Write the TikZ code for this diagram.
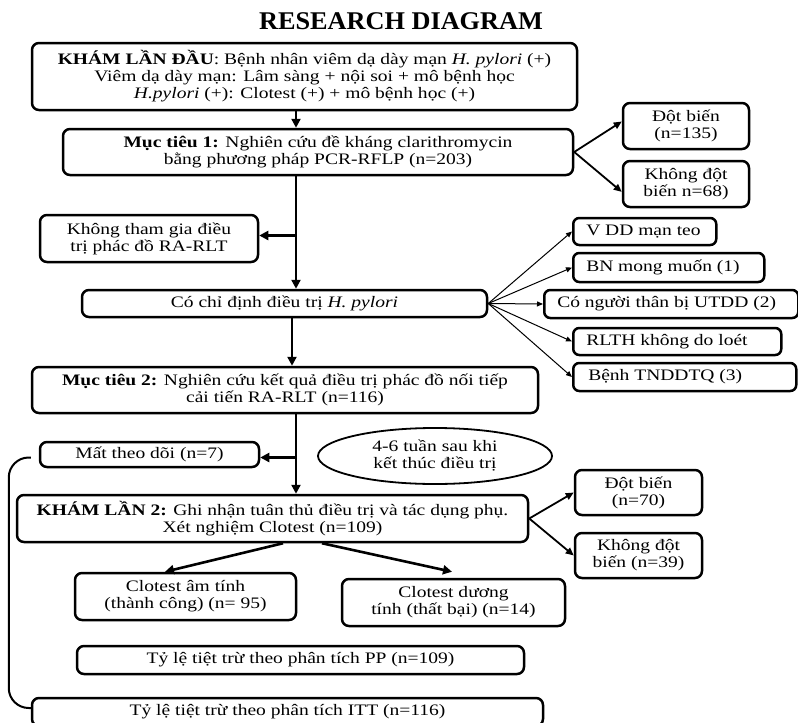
\documentclass[tikz,border=0pt]{standalone}
\usepackage{fontspec}
\setmainfont{Liberation Serif}[FakeStretch=1.22]
\newfontfamily\titlefont{Liberation Serif}[FakeStretch=1.03]
\usetikzlibrary{arrows.meta,shapes.geometric,calc}
\newcommand\leftin[2]{\makebox[#1][l]{#2}}
\begin{document}
\begin{tikzpicture}[x=1pt,y=-1pt,
  every node/.style={font=\fontsize{16pt}{17pt}\selectfont},
  box/.style={draw, line width=2.5pt, rounded corners=7pt, align=center, inner sep=0pt},
  fanbox/.style={draw, line width=2.5pt, rounded corners=6pt, inner ysep=0pt, inner xsep=13pt, anchor=west},
  thickarr/.style={line width=2.6pt, -{Triangle[length=9pt,width=9pt]}},
  medarr/.style={line width=1.8pt, -{Triangle[length=8pt,width=7pt]}},
  thinarr/.style={line width=1pt, -{Triangle[length=6pt,width=5pt]}},
  bracket/.style={line width=2pt, rounded corners=20pt},
  ]
\useasboundingbox (0,0) rectangle (798,723);

% title
\node[font={\titlefont\fontsize{25.5pt}{28pt}\selectfont\bfseries}] (title) at (401,21) {RESEARCH DIAGRAM};

% main column
\node[box, minimum width=545pt, minimum height=67pt] (top) at (304.5,76.5)
  {\textbf{KHÁM LẦN ĐẦU}: Bệnh nhân viêm dạ dày mạn \textit{H. pylori} (+)\\
   Viêm dạ dày mạn: Lâm sàng + nội soi + mô bệnh học\\
   \textit{H.pylori} (+): Clotest (+) + mô bệnh học (+)};
\node[box, minimum width=510pt, minimum height=46pt] (m1) at (318,152)
  {\textbf{Mục tiêu 1:} Nghiên cứu đề kháng clarithromycin\\
   bằng phương pháp PCR-RFLP (n=203)};
\node[box, minimum width=126pt, minimum height=46pt] (db1) at (686,126) {Đột biến\\(n=135)};
\node[box, minimum width=126pt, minimum height=46pt] (kdb1) at (686,184) {Không đột\\biến n=68)};
\node[box, minimum width=218pt, minimum height=47pt] (ktg) at (149,238.5)
  {Không tham gia điều\\trị phác đồ RA-RLT};
\node[box, minimum width=405pt, minimum height=27pt] (ccd) at (284.5,303.5)
  {Có chỉ định điều trị \textit{H. pylori}};

% fan boxes
\node[fanbox, minimum height=27pt] (vdd) at (572,231.5) {\leftin{117pt}{V DD mạn teo}};
\node[fanbox, minimum height=29pt] (bn) at (572,267.5) {\leftin{165pt}{BN mong muốn (1)}};
\node[fanbox, minimum height=28pt] (cnt) at (543,304) {\leftin{228pt}{Có người thân bị UTDD (2)}};
\node[fanbox, minimum height=27pt] (rlth) at (572,341.5) {\leftin{182pt}{RLTH không do loét}};
\node[fanbox, minimum height=28pt] (benh) at (572,377) {\leftin{197pt}{\hspace{2pt}Bệnh TNDDTQ (3)}};

\node[box, minimum width=506pt, minimum height=46pt] (m2) at (285,390)
  {\textbf{Mục tiêu 2:} Nghiên cứu kết quả điều trị phác đồ nối tiếp\\
   cải tiến RA-RLT (n=116)};
\node[box, minimum width=219pt, minimum height=25pt] (mat) at (149.5,454.5) {Mất theo dõi (n=7)};
\node[draw, ellipse, line width=1.8pt, minimum width=234pt, minimum height=56pt, inner sep=0pt, align=center]
  (ell) at (435,456) {4-6 tuần sau khi\\kết thúc điều trị};
\node[box, minimum width=511pt, minimum height=47pt] (k2) at (272.5,518.5)
  {\textbf{KHÁM LẦN 2:} Ghi nhận tuân thủ điều trị và tác dụng phụ.\\
   Xét nghiệm Clotest (n=109)};
\node[box, minimum width=127pt, minimum height=45pt] (db2) at (638.5,492.5) {Đột biến\\(n=70)};
\node[box, minimum width=127pt, minimum height=45pt] (kdb2) at (638.5,555.5) {Không đột\\biến (n=39)};
\node[box, minimum width=221pt, minimum height=47pt] (cam) at (185.5,596.5)
  {Clotest âm tính\\(thành công) (n= 95)};
\node[box, minimum width=223pt, minimum height=47pt] (cduong) at (453.5,602.5)
  {Clotest dương\\tính (thất bại) (n=14)};
\node[box, minimum width=447pt, minimum height=28pt] (pp) at (300.5,660)
  {Tỷ lệ tiệt trừ theo phân tích PP (n=109)};
\node[box, minimum width=511pt, minimum height=28pt] (itt) at (287.5,712)
  {\raisebox{3pt}{Tỷ lệ tiệt trừ theo phân tích ITT (n=116)}};

% helper x positions of the spine
\coordinate (mx) at (296,0);
\coordinate (mxb) at (292,0);

% spine connectors
\draw[thickarr] (top.south -| mx) -- (m1.north -| mx);
\draw[thickarr] (m1.south -| mx) -- (ccd.north -| mx);
\draw[thickarr] ([yshift=3pt]ktg.east -| mx) -- ([yshift=3pt]ktg.east);
\draw[thickarr] (ccd.south -| mxb) -- (m2.north -| mxb);
\draw[thickarr] (m2.south -| mx) -- (k2.north -| mx);
\draw[thickarr] ([yshift=-3pt]mat.east -| mx) -- ([yshift=-3pt]mat.east);

% mutation branches
\draw[medarr] (m1.east) -- (db1.176);
\draw[medarr] (m1.east) -- (kdb1.187);
\draw[medarr] (k2.east) -- (db2.west);
\draw[medarr] (k2.east) -- (kdb2.west);

% fan
\draw[thinarr] (ccd.east) -- (vdd.west);
\draw[thinarr] (ccd.east) -- (bn.west);
\draw[thinarr] (ccd.east) -- (cnt.west);
\draw[thinarr] (ccd.east) -- (rlth.west);
\draw[thinarr] (ccd.east) -- (benh.west);

% Clotest results
\draw[thickarr] ([xshift=10.5pt]k2.south) -- ([xshift=-20.5pt]cam.north);
\draw[thickarr] ([xshift=49.5pt]k2.south) -- ([xshift=-1.5pt,yshift=6pt]cduong.north);

% left bracket
\draw[bracket] ([xshift=-8pt,yshift=-3pt]mat.west) -| ([xshift=-22pt,yshift=4pt]itt.west) -- ([yshift=4pt]itt.west);
\end{tikzpicture}
\end{document}
